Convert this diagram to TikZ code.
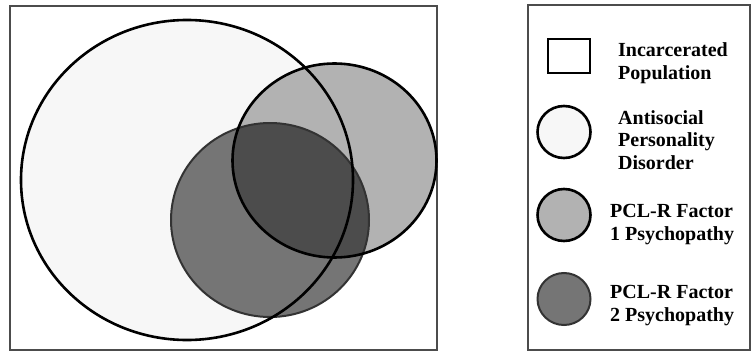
\documentclass[tikz,border=0pt]{standalone}
\usepackage{fontspec}
\setmainfont{Liberation Serif}
\definecolor{aspd}{gray}{0.97}
\definecolor{fone}{gray}{0.70}
\definecolor{ftwo}{gray}{0.46}
\definecolor{fboth}{gray}{0.30}
\definecolor{boxline}{gray}{0.30}
\begin{document}
\begin{tikzpicture}[x=1pt,y=-1pt,
  frame/.style={draw=boxline,line width=2pt},
  ring/.style={draw=black,line width=2.6pt},
  ringtwo/.style={draw=black!80,line width=2pt},
  legtext/.style={anchor=base west,inner sep=0pt,align=left,font=\bfseries\fontsize{20}{22.5}\selectfont}]
\useasboundingbox (0,0) rectangle (752,361);
\fill[white] (0,0) rectangle (752,361);
% main panel
\draw[frame] (10,6) rectangle (437,350);
\fill[aspd] (187,180) ellipse [x radius=166, y radius=160];
\fill[fone] (334.5,160.5) ellipse [x radius=102, y radius=97];
\fill[ftwo] (270,220) ellipse [x radius=99, y radius=97];
\begin{scope}
  \clip (334.5,160.5) ellipse [x radius=102, y radius=97];
  \fill[fboth] (270,220) ellipse [x radius=99, y radius=97];
\end{scope}
\draw[ringtwo] (270,220) ellipse [x radius=99, y radius=97];
\draw[ring] (334.5,160.5) ellipse [x radius=102, y radius=97];
\draw[ring] (187,180) ellipse [x radius=166, y radius=160];
% legend
\draw[frame] (528,5) rectangle (750,350);
\draw[draw=black,line width=1.8pt,fill=white] (548,39) rectangle (590,73);
\draw[ring,fill=aspd] (564,132) ellipse [x radius=26.5, y radius=26];
\draw[ring,fill=fone] (564,215) ellipse [x radius=26.5, y radius=26];
\draw[ringtwo,fill=ftwo] (564,299) ellipse [x radius=26.5, y radius=26];
\node[legtext] (t1) at (618,79) {Incarcerated\\Population};
\node[legtext] (t2) at (618,169) {Antisocial\\Personality\\Disorder};
\node[legtext] (t3) at (610,240) {PCL-R Factor\\1 Psychopathy};
\node[legtext] (t4) at (610,321) {PCL-R Factor\\2 Psychopathy};
\end{tikzpicture}
\end{document}
